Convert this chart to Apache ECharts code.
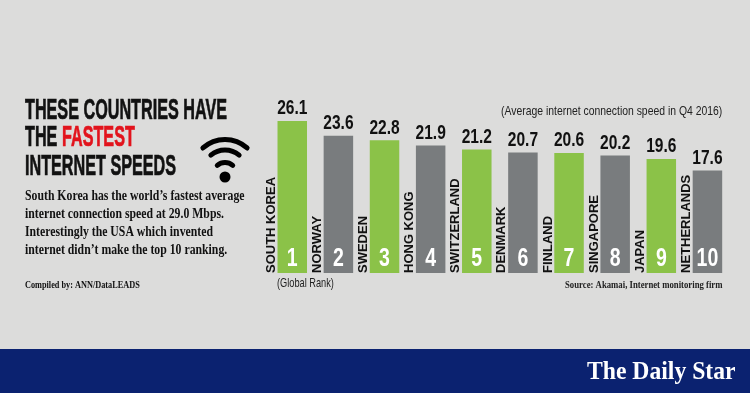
<!DOCTYPE html>
<html>
<head>
<meta charset="utf-8">
<style>
  html, body { margin: 0; padding: 0; background: #dcdcdb; }
  #chart { width: 750px; height: 393px; }
</style>
<script src="https://cdn.jsdelivr.net/npm/echarts@6/dist/echarts.min.js"></script>
</head>
<body>
<div id="chart"></div>
<script>
const countries = ['SOUTH KOREA', 'NORWAY', 'SWEDEN', 'HONG KONG', 'SWITZERLAND', 'DENMARK', 'FINLAND', 'SINGAPORE', 'JAPAN', 'NETHERLANDS']
const speeds = [26.1, 23.6, 22.8, 21.9, 21.2, 20.7, 20.6, 20.2, 19.6, 17.6]
const ranks = [1, 2, 3, 4, 5, 6, 7, 8, 9, 10]
const titleLines = ['THESE COUNTRIES HAVE', 'THE ', 'FASTEST', 'INTERNET SPEEDS']
const bodyLines = [
  'South Korea has the world\u2019s fastest average',
  'internet connection speed at 29.0 Mbps.',
  'Interestingly the USA which invented',
  'internet didn\u2019t make the top 10 ranking.'
]

const GREEN = '#8bc248'
const GRAY = '#797c7e'
const INK = '#111111'
const SANS = '"Liberation Sans", sans-serif'
const SERIF = '"Liberation Serif", serif'

// small helper, every loose text goes through here
// no condensed face is installed so sx squeezes the text sideways
function txt(text, x, y, font, fill, sx) {
  return {
    type: 'text',
    x: x,
    y: y,
    scaleX: sx || 1,
    silent: true,
    style: { text: text, x: 0, y: 0, font: font, fill: fill, textVerticalAlign: 'middle' }
  }
}

// squeezing thins the title strokes, so it gets a hairline outline back
function titleTxt(text, x, y, fill) {
  const t = txt(text, x, y, 'bold 29px ' + SANS, fill, 0.558)
  t.style.stroke = fill
  t.style.lineWidth = 0.7
  return t
}

function arc(r, cy, half) {
  return {
    type: 'arc',
    silent: true,
    shape: { cx: 225, cy: cy, r: r, startAngle: (-90 - half) * Math.PI / 180, endAngle: (-90 + half) * Math.PI / 180 },
    style: { stroke: '#000', lineWidth: 5, fill: null, lineCap: 'round' }
  }
}

const chart = echarts.init(document.getElementById('chart'), null, { renderer: 'canvas' })

chart.setOption({
  animation: false,
  backgroundColor: '#dcdcdb',
  grid: { left: 269.2, width: 461.3, top: 98.4, bottom: 120, containLabel: false },
  xAxis: { type: 'category', data: countries, show: false },
  yAxis: { type: 'value', min: 0, max: 30, show: false },
  series: [
    {
      type: 'bar',
      data: speeds,
      barWidth: 29.5,
      itemStyle: { color: (p) => (ranks[p.dataIndex] % 2 ? GREEN : GRAY) }
    },
    {
      // value on top, rank at the foot, country name on its side left of the bar
      type: 'custom',
      z: 5,
      data: speeds.map((v, i) => [i, v]),
      renderItem: (params, api) => {
        const i = params.dataIndex
        const top = api.coord([api.value(0), api.value(1)])
        const foot = api.coord([api.value(0), 0])
        return {
          type: 'group',
          children: [
            {
              type: 'text',
              x: top[0],
              y: top[1] - 12.5,
              scaleX: 0.74,
              style: {
                text: speeds[i].toFixed(1),
                font: 'bold 21px ' + SANS,
                fill: INK,
                align: 'center',
                verticalAlign: 'middle'
              }
            },
            {
              type: 'text',
              x: foot[0],
              y: foot[1] - 13.5,
              scaleX: 0.78,
              style: {
                text: String(ranks[i]),
                font: 'bold 25px ' + SANS,
                fill: '#fff',
                align: 'center',
                verticalAlign: 'middle'
              }
            },
            {
              type: 'text',
              x: foot[0] - 21,
              y: foot[1],
              rotation: Math.PI / 2,
              style: {
                text: countries[i],
                font: 'bold 13px ' + SANS,
                fill: INK,
                align: 'left',
                verticalAlign: 'middle'
              }
            }
          ]
        }
      }
    }
  ],
  graphic: [
    { type: 'rect', silent: true, shape: { x: 0, y: 349, width: 750, height: 44 }, style: { fill: '#0b2270' } },
    titleTxt(titleLines[0], 25, 111, INK),
    titleTxt(titleLines[1], 25, 138, INK),
    titleTxt(titleLines[2], 62, 138, '#e2131c'),
    titleTxt(titleLines[3], 25, 166.5, INK),
    txt(bodyLines[0], 25, 196, 'bold 14px ' + SERIF, INK, 0.84),
    txt(bodyLines[1], 25, 214, 'bold 14px ' + SERIF, INK, 0.84),
    txt(bodyLines[2], 25, 232, 'bold 14px ' + SERIF, INK, 0.84),
    txt(bodyLines[3], 25, 250, 'bold 14px ' + SERIF, INK, 0.84),
    txt('Compiled by: ANN/DataLEADS', 25, 285, 'bold 10px ' + SERIF, INK, 0.826),
    txt('(Global Rank)', 277, 283, '13px ' + SANS, '#222', 0.71),
    txt('(Average internet connection speed in Q4 2016)', 501, 111, '13px ' + SANS, '#222', 0.8),
    txt('Source: Akamai, Internet monitoring firm', 565, 285, 'bold 10px ' + SERIF, '#222', 0.872),
    txt('The Daily Star', 587, 372, 'bold 26px ' + SERIF, '#fff', 0.91),
    arc(33, 172.5, 42),
    arc(22, 172, 40),
    arc(12, 174.5, 40),
    { type: 'circle', silent: true, shape: { cx: 225, cy: 177, r: 5.5 }, style: { fill: '#000' } }
  ]
})
</script>
</body>
</html>
